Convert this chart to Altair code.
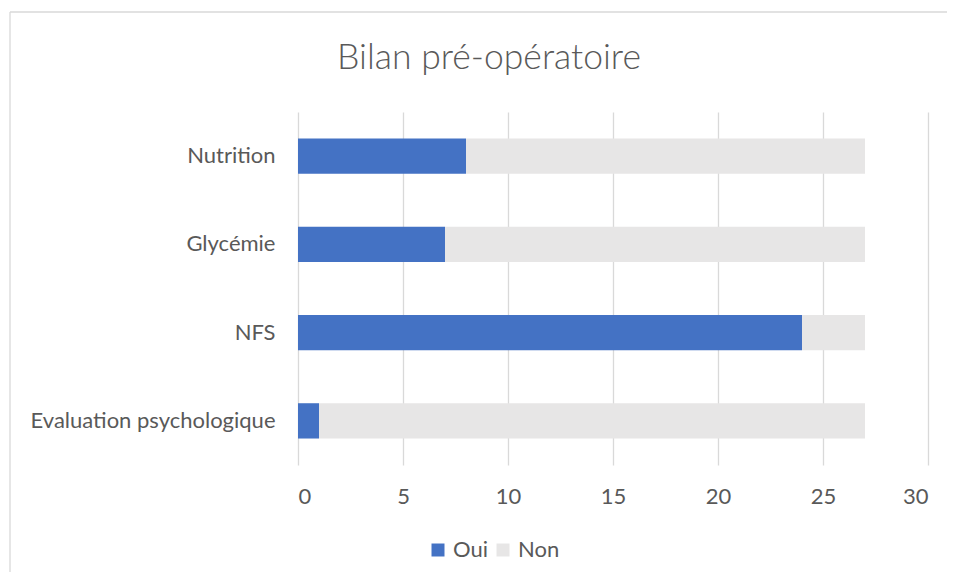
import altair as alt
import pandas as pd

categories = ["Nutrition", "Glycémie", "NFS", "Evaluation psychologique"]
series = ["Oui", "Non"]
oui = [8, 7, 24, 1]
non = [19, 20, 3, 26]
x_ticks = [0, 5, 10, 15, 20, 25, 30]
title_text = "Bilan pré-opératoire"

rows = []
for c, o, n in zip(categories, oui, non):
    rows.append({"Bilan": c, "Réponse": "Oui", "Valeur": o, "ordre": 0})
    rows.append({"Bilan": c, "Réponse": "Non", "Valeur": n, "ordre": 1})
df = pd.DataFrame(rows)

FONT = "Lato"
TXT = "#595959"
GRID = "#D9D9D9"

W, H = 630, 353
one = pd.DataFrame({"k": [0]})

frame_top = alt.Chart(one).mark_rule(color=GRID, strokeWidth=1.3).encode(
    x=alt.value(-288), x2=alt.value(649), y=alt.value(-100)
)
frame_left = alt.Chart(one).mark_rule(color=GRID, strokeWidth=1.3).encode(
    x=alt.value(-288), y=alt.value(-100), y2=alt.value(460)
)

title = alt.Chart(pd.DataFrame({"t": [title_text]})).mark_text(
    font=FONT, fontSize=35.5, fontWeight=300, color=TXT,
    align="center", baseline="alphabetic"
).encode(
    text="t:N", x=alt.value(191), y=alt.value(-43)
)

bars = alt.Chart(df).mark_bar().encode(
    y=alt.Y(
        "Bilan:N", sort=categories,
        scale=alt.Scale(paddingInner=0.6, paddingOuter=0.3),
        axis=alt.Axis(title=None, ticks=False, tickSize=0, domain=False, grid=False,
                      labelFont=FONT, labelFontSize=22, labelColor=TXT,
                      labelPadding=23, labelLimit=400),
    ),
    x=alt.X(
        "Valeur:Q", stack="zero",
        scale=alt.Scale(domain=[0, 30], nice=False),
        axis=alt.Axis(title=None, values=x_ticks, ticks=False, tickSize=0, domain=False,
                      grid=True, gridColor=GRID, gridWidth=1.3,
                      labelFont=FONT, labelFontSize=22, labelColor=TXT,
                      labelPadding=21),
    ),
    color=alt.Color(
        "Réponse:N",
        scale=alt.Scale(domain=series, range=["#4472C4", "#E7E6E6"]),
        legend=alt.Legend(
            title=None, orient="none", legendX=129, legendY=427,
            direction="horizontal", symbolType="square", symbolSize=169,
            symbolStrokeWidth=0, labelFont=FONT, labelFontSize=22,
            labelColor=TXT, labelOffset=4, columnPadding=4, padding=0,
        ),
    ),
    order=alt.Order("ordre:Q"),
)

chart = alt.layer(frame_top, frame_left, title, bars).properties(
    width=W, height=H,
    autosize=alt.AutoSizeParams(type="none"),
    padding={"left": 290, "top": 104, "right": 22, "bottom": 110},
).configure(background="white").configure_view(strokeWidth=0, stroke="transparent")

chart.save("out.html", embed_options={"renderer": "svg", "actions": False})
